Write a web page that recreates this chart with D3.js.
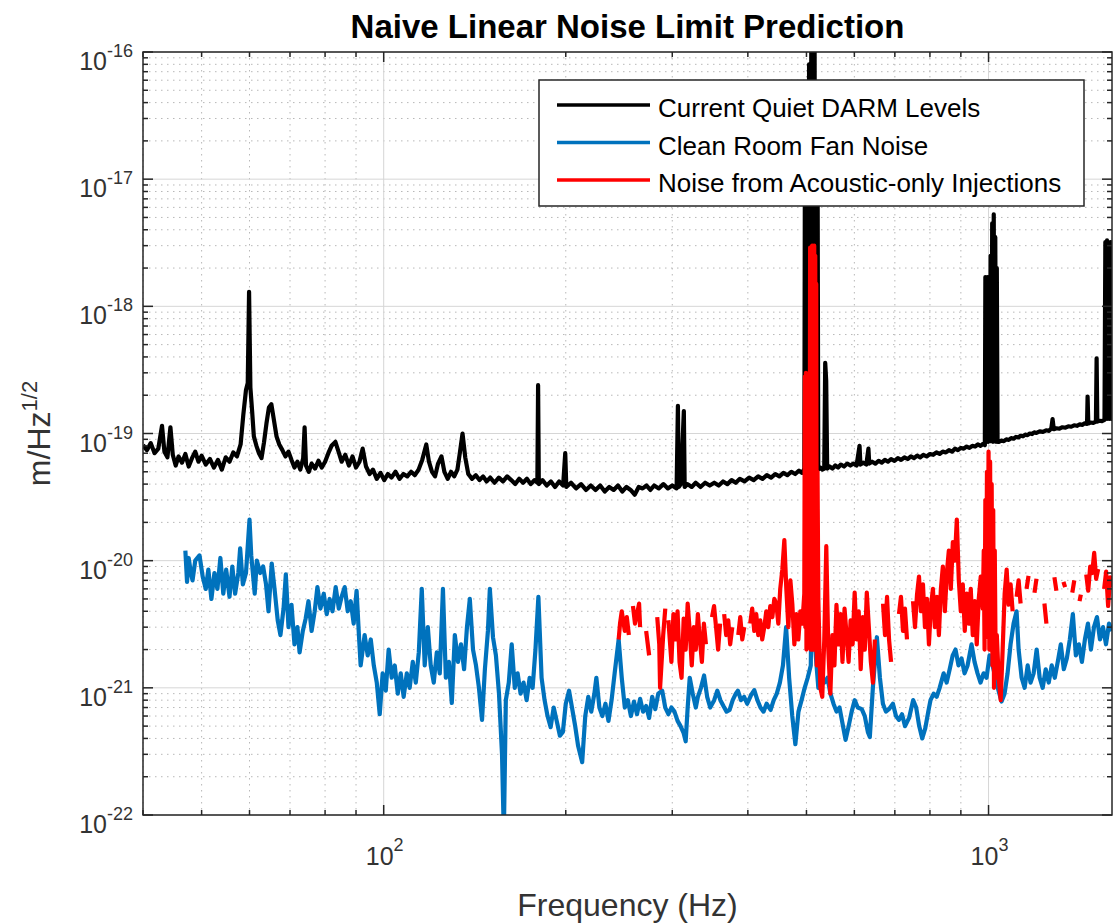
<!DOCTYPE html>
<meta charset="utf-8">
<style>
  body { margin: 0; background: #fff; }
  svg text { font-family: "Liberation Sans", Arial, Helvetica, sans-serif; fill: #262626; }
</style>
<body>
<svg width="1114" height="924"></svg>
<script src="https://d3js.org/d3.v7.min.js"></script>
<script>

// ---- data: [frequency Hz, amplitude m/Hz^1/2] ----
var darm = [
  [40,8.1e-20],[40.6,7.4e-20],[41.2,8.4e-20],[41.8,7.0e-20],[42.4,7.6e-20],[43.0,1.15e-19],[43.4,7.2e-20],
  [43.9,6.5e-20],[44.4,1.12e-19],[44.8,6.8e-20],[45.3,5.6e-20],[45.8,6.6e-20],[46.4,5.9e-20],[47.0,6.9e-20],
  [47.6,5.5e-20],[48.2,6.4e-20],[48.8,7.2e-20],[49.4,6.0e-20],[50.0,6.7e-20],[50.8,5.7e-20],[51.6,6.3e-20],
  [52.4,5.4e-20],[53.2,6.2e-20],[54.0,5.2e-20],[54.8,6.5e-20],[55.6,6.0e-20],[56.4,7.1e-20],[57.2,6.6e-20],
  [58.0,8.2e-20],[58.6,1.4e-19],[59.2,2.2e-19],[59.6,2.5e-19],[59.9,1.3e-18],[60.2,2.3e-19],[60.6,1.5e-19],
  [61.0,9.5e-20],[61.6,8.0e-20],[62.2,7.0e-20],[62.8,6.4e-20],[63.4,8.5e-20],[64.0,1.2e-19],[64.6,1.6e-19],
  [65.2,1.7e-19],[65.8,1.3e-19],[66.5,9.5e-20],[67.2,8.2e-20],[68.0,7.4e-20],[68.8,6.6e-20],[69.6,7.2e-20],
  [70.4,6.2e-20],[71.2,5.4e-20],[72.0,6.0e-20],[72.8,5.2e-20],[73.6,6.4e-20],[74.0,1.12e-19],[74.4,5.6e-20],
  [75.2,5.0e-20],[76.0,5.8e-20],[77.0,5.3e-20],[78.0,6.1e-20],[79.0,5.4e-20],[80.0,6.0e-20],[81.0,7.0e-20],
  [82.0,8.0e-20],[83.2,8.6e-20],[84.2,7.2e-20],[85.2,6.0e-20],[86.4,6.8e-20],[87.6,5.6e-20],[88.8,6.6e-20],
  [90.0,5.4e-20],[91.2,6.0e-20],[92.3,7.6e-20],[93.5,5.5e-20],[94.8,4.8e-20],[96.0,5.2e-20],[97.4,4.4e-20],
  [98.8,4.9e-20],[100.2,4.3e-20],[101.6,4.8e-20],[103.0,4.5e-20],[104.6,5.0e-20],[106.2,4.4e-20],[107.8,4.8e-20],
  [109.4,4.6e-20],[111.0,5.0e-20],[112.6,4.7e-20],[114.2,5.2e-20],[115.8,6.2e-20],[117.6,8.2e-20],[118.8,6.0e-20],
  [120.2,5.0e-20],[121.6,4.6e-20],[123.0,5.8e-20],[124.6,6.6e-20],[126.0,5.0e-20],[127.6,4.4e-20],[129.2,5.0e-20],
  [130.8,4.6e-20],[132.4,5.2e-20],[133.6,7.0e-20],[135.0,1.0e-19],[136.4,6.5e-20],[138.0,4.8e-20],[140,4.4e-20],
  [142,4.7e-20],[144,4.3e-20],[146,4.6e-20],[148,4.2e-20],[150,4.5e-20],[152.5,4.1e-20],[155,4.5e-20],
  [157.5,4.2e-20],[160,4.6e-20],[162.5,4.3e-20],[165,4.0e-20],[167.5,4.4e-20],[170,4.1e-20],[172.5,4.4e-20],
  [175,4.0e-20],[177.5,4.3e-20],[179.5,4.1e-20],[180,2.4e-19],[180.5,4.0e-20],[183,4.3e-20],[186,3.9e-20],
  [189,4.2e-20],[192,3.8e-20],[195,4.2e-20],[198,3.9e-20],[199.6,7.0e-20],[200.4,3.8e-20],[204,4.1e-20],
  [208,3.7e-20],[212,4.0e-20],[216,3.6e-20],[220,3.9e-20],[224,3.6e-20],[228,3.9e-20],[232,3.5e-20],
  [236,3.8e-20],[240,3.6e-20],[244,3.9e-20],[248,3.5e-20],[252,3.8e-20],[256,3.6e-20],[260,3.3e-20],
  [264,3.8e-20],[268,3.7e-20],[272,3.9e-20],[276,3.6e-20],[280,3.9e-20],[285,3.7e-20],[290,4.0e-20],
  [295,3.7e-20],[300,3.9e-20],[305,3.7e-20],[306.5,1.65e-19],[307.5,3.8e-20],[310,4.0e-20],[313.5,1.5e-19],
  [314.5,3.8e-20],[318,4.0e-20],[323,3.8e-20],[328,4.1e-20],[334,3.8e-20],[340,4.1e-20],[346,3.9e-20],
  [352,4.1e-20],[358,3.9e-20],[364,4.2e-20],[370,4.0e-20],[376,4.3e-20],[382,4.1e-20],[388,4.4e-20],
  [395,4.2e-20],[402,4.5e-20],[409,4.3e-20],[416,4.6e-20],[423,4.4e-20],[430,4.7e-20],[437,4.5e-20],
  [444,4.8e-20],[451,4.6e-20],[458,4.9e-20],[465,4.7e-20],[472,5.0e-20],[479,4.8e-20],[486,5.1e-20],
  [492,4.9e-20],[496,5.3e-20],[497,1.2e-17],[498,5.0e-20],[499,1.8e-17],[500,5.2e-20],[501,2.5e-17],
  [502,5.0e-20],[503,6e-18],[504,5.3e-20],[505,8e-17],[506,5.0e-20],[507,2e-17],[508,5.2e-20],[509.5,5e-16],
  [511,5.0e-20],[512.5,8e-16],[514,5.2e-20],[515.5,5e-16],[517,5.0e-20],[518.5,4e-17],[520,5.2e-20],
  [521.5,2e-17],[523,5.2e-20],[527,5.4e-20],[531,5.2e-20],
  [535,5.3e-20],[537,3.6e-19],[539,2.6e-19],[541,5.3e-20],[546,5.5e-20],[552,5.3e-20],[558,5.6e-20],
  [564,5.4e-20],[570,5.7e-20],[577,5.5e-20],[584,5.8e-20],[591,5.6e-20],[598,5.8e-20],[605,5.6e-20],
  [612,8.0e-20],[614,5.7e-20],[621,5.9e-20],[628,5.7e-20],[633,7.6e-20],[635,5.8e-20],[642,6.0e-20],
  [650,5.8e-20],[658,6.1e-20],[666,5.9e-20],[674,6.2e-20],[682,6.0e-20],[690,6.3e-20],[699,6.1e-20],
  [708,6.4e-20],[717,6.2e-20],[726,6.5e-20],[735,6.3e-20],[744,6.6e-20],[753,6.4e-20],[762,6.7e-20],
  [771,6.5e-20],[780,6.8e-20],[790,6.6e-20],[800,6.9e-20],[810,6.8e-20],[820,7.1e-20],[830,6.9e-20],
  [840,7.2e-20],[850,7.1e-20],[860,7.4e-20],[870,7.2e-20],[880,7.6e-20],[890,7.4e-20],[900,7.7e-20],
  [910,7.6e-20],[920,7.9e-20],[930,7.7e-20],[940,8.0e-20],[950,7.9e-20],[960,8.2e-20],[970,8.0e-20],
  [980,8.3e-20],[986,8.1e-20],[988,1.7e-18],[990,8.5e-20],[992,1.6e-18],[994,8.6e-20],[996,1.7e-18],
  [999,8.6e-20],[1002,1.5e-18],[1005,8.7e-20],[1008,2.5e-18],[1011,8.7e-20],[1014,4.5e-18],[1017,8.6e-20],
  [1020,5.3e-18],[1023,8.7e-20],[1026,3.5e-18],[1029,8.6e-20],[1032,2e-18],[1035,8.6e-20],[1040,8.6e-20],
  [1050,8.8e-20],[1060,8.7e-20],[1070,9.0e-20],[1080,8.9e-20],[1090,9.2e-20],[1100,9.1e-20],[1110,9.4e-20],
  [1120,9.3e-20],[1130,9.6e-20],[1140,9.5e-20],[1150,9.8e-20],[1160,9.7e-20],[1170,1.0e-19],[1180,9.9e-20],
  [1190,1.02e-19],[1200,1.01e-19],[1215,1.04e-19],[1230,1.03e-19],[1245,1.06e-19],[1260,1.05e-19],
  [1270,1.1e-19],[1276,1.3e-19],[1282,1.08e-19],[1295,1.1e-19],[1310,1.09e-19],[1325,1.12e-19],
  [1340,1.11e-19],[1355,1.14e-19],[1370,1.13e-19],[1385,1.16e-19],[1400,1.15e-19],[1415,1.18e-19],
  [1430,1.17e-19],[1440,1.2e-19],[1455,1.19e-19],[1458,1.95e-19],[1462,1.2e-19],[1475,1.22e-19],
  [1490,1.21e-19],[1505,1.24e-19],[1509,3.9e-19],[1513,1.24e-19],[1525,1.26e-19],[1540,1.25e-19],
  [1555,1.28e-19],[1560,3.2e-18],[1565,1.3e-19],[1570,3.3e-18],[1575,1.3e-19],[1580,3.1e-18],[1585,1.3e-19],
  [1590,3.2e-18],[1595,1.3e-19],[1600,3.2e-18],[1603,3.1e-18],[1605,1.3e-19]
];

var fan = [
  [47.0,1.2e-20],[47.3,6.8e-21],[47.6,1.05e-20],[48.0,8.0e-21],[48.3,7.0e-21],[48.8,1.0e-20],[49.6,1.1e-20],
  [50.2,7.5e-21],[50.8,6.0e-21],[51.3,8.5e-21],[51.9,5.0e-21],[52.5,8.0e-21],[53.1,6.0e-21],[53.7,1.05e-20],
  [54.3,5.5e-21],[54.9,8.5e-21],[55.6,5.2e-21],[56.2,9.0e-21],[56.8,5.5e-21],[57.5,8.0e-21],[57.9,1.25e-20],
  [58.5,6.5e-21],[59.2,8.0e-21],[60.0,2.1e-20],[60.4,1.1e-20],[61.2,5.5e-21],[61.7,1.0e-20],[62.5,8.0e-21],
  [63.2,9.0e-21],[63.9,6.5e-21],[64.5,4.0e-21],[65.3,9.5e-21],[66.0,6.0e-21],[66.8,3.4e-21],[67.5,2.6e-21],
  [68.3,4.2e-21],[68.9,7.8e-21],[69.6,3.0e-21],[70.4,4.5e-21],[71.2,2.2e-21],[72.0,3.0e-21],[72.6,1.9e-21],
  [73.5,2.8e-21],[74.3,3.5e-21],[75.1,4.8e-21],[76.0,2.8e-21],[76.9,4.0e-21],[77.7,6.2e-21],[78.6,4.2e-21],
  [79.6,5.5e-21],[80.5,3.8e-21],[81.4,5.0e-21],[82.3,4.0e-21],[83.3,6.2e-21],[84.3,4.2e-21],[85.2,5.2e-21],
  [86.2,6.2e-21],[87.2,4.0e-21],[88.2,4.8e-21],[89.2,3.2e-21],[90.2,5.8e-21],[91.0,2.6e-21],[91.6,1.5e-21],
  [93.0,2.6e-21],[94.1,1.8e-21],[95.2,2.4e-21],[96.3,1.5e-21],[97.4,1.1e-21],[98.5,6.2e-22],[99.6,1.3e-21],
  [100.8,9.5e-22],[101.9,2.0e-21],[103.1,1.2e-21],[104.3,1.5e-21],[105.5,9.0e-22],[106.7,1.3e-21],
  [107.9,8.5e-22],[109.2,1.3e-21],[110.4,1.0e-21],[111.7,1.6e-21],[113.0,1.1e-21],[114.3,1.9e-21],
  [115.6,6.0e-21],[116.9,1.5e-21],[118.3,3.0e-21],[119.6,1.5e-21],[121.0,1.1e-21],[122.4,1.9e-21],
  [123.8,1.3e-21],[125.3,6.0e-21],[126.7,1.2e-21],[128.2,1.6e-21],[129.6,7.6e-22],[131.1,2.6e-21],
  [132.7,1.6e-21],[134.2,2.2e-21],[135.8,1.4e-21],[137.3,3.0e-21],[138.8,5.0e-21],[140.5,2.0e-21],
  [142.1,1.5e-21],[143.7,1.0e-21],[145.4,5.6e-22],[147.0,1.4e-21],[148.7,2.8e-21],[149.8,6.0e-21],
  [151.6,2.5e-21],[153.3,1.8e-21],[155.1,9.0e-22],[156.9,3.0e-22],[158.0,7e-23],[159.2,8.0e-22],
  [161.0,1.1e-21],[162.8,2.2e-21],[164.7,1.0e-21],[166.5,1.3e-21],[168.4,9.0e-22],[170.3,1.1e-21],
  [172.3,8.0e-22],[174.3,1.2e-21],[176.3,1.0e-21],[178.2,2.0e-21],[180.2,5.2e-21],[182.4,1.2e-21],
  [184.5,8.0e-22],[186.6,6.0e-22],[188.8,4.9e-22],[191.0,7.0e-22],[193.2,5.5e-22],[195.6,4.2e-22],
  [197.8,4.5e-22],[200.0,7.5e-22],[202.5,9.5e-22],[204.8,7.0e-22],[207.3,5.0e-22],[209.6,3.5e-22],
  [212.9,2.6e-22],[215.4,6.0e-22],[217.9,8.5e-22],[220.4,6.5e-22],[223.0,9.0e-22],[224.7,1.2e-21],
  [227.3,7.0e-22],[229.9,6.0e-22],[232.6,7.5e-22],[235.3,5.5e-22],[238.1,8.0e-22],[240.9,1.3e-21],
  [244.6,2.4e-21],[247.5,1.2e-21],[250.4,7.0e-22],[253.3,8.0e-22],[256.3,6.0e-22],[259.3,7.8e-22],
  [262.3,6.2e-22],[265.4,8.2e-22],[268.4,6.5e-22],[271.6,7.2e-22],[274.7,5.8e-22],[277.9,8.5e-22],
  [281.2,6.8e-22],[284.4,9.0e-22],[288.7,9.5e-22],[292.1,7.0e-22],[295.6,6.2e-22],[299.0,7.0e-22],
  [302.5,6.5e-22],[306.1,5.5e-22],[309.6,5.0e-22],[313.3,4.4e-22],[315.7,3.8e-22],[318.1,7.0e-22],
  [320.6,1.2e-21],[324.3,9.0e-22],[328.1,7.0e-22],[330.7,8.5e-22],[334.6,1.0e-21],[338.6,1.25e-21],
  [342.6,8.5e-22],[346.6,7.0e-22],[351.9,8.0e-22],[356.1,9.5e-22],[360.3,8.0e-22],[364.5,7.2e-22],
  [368.9,6.5e-22],[373.2,6.7e-22],[377.6,8.0e-22],[382.1,9.0e-22],[385.1,9.5e-22],[389.7,8.0e-22],
  [394.3,8.5e-22],[399.0,7.5e-22],[405.1,8.8e-22],[409.9,9.6e-22],[414.8,8.0e-22],[419.7,7.0e-22],
  [424.6,6.5e-22],[429.6,7.5e-22],[436.2,6.7e-22],[441.4,8.0e-22],[446.6,9.0e-22],[451.9,1.1e-21],
  [457.2,1.5e-21],[462.7,3.0e-21],[468.1,1.2e-21],[473.7,6.0e-22],[479.3,3.6e-22],[485.0,6.5e-22],
  [490.8,8.0e-22],[496.6,1.0e-21],[502.4,1.2e-21],[508.3,1.5e-21],[511.2,1.8e-20],[517.1,2.0e-21],
  [523.1,1.0e-21],[529.2,1.3e-21],[535.4,1.1e-21],[541.6,1.2e-21],[547.8,9.0e-22],[554.2,7.5e-22],
  [560.6,6.5e-22],[567.1,7.0e-22],[573.7,5.2e-22],[580.3,3.9e-22],[587.1,5.0e-22],[593.9,6.5e-22],
  [600.8,8.0e-22],[607.8,7.0e-22],[617.2,6.8e-22],[624.3,6.0e-22],[631.6,4.5e-22],[636.4,4.1e-22],
  [643.8,1.0e-21],[653.7,2.5e-21],[661.3,1.2e-21],[668.9,7.5e-22],[676.6,6.5e-22],[684.4,6.8e-22],
  [694.9,7.5e-22],[703.0,6.0e-22],[711.1,5.6e-22],[719.4,6.2e-22],[727.7,5.0e-22],[739.0,5.8e-22],
  [750.5,8.0e-22],[759.2,7.0e-22],[768.0,5.0e-22],[776.9,4.0e-22],[785.9,4.8e-22],[795.0,6.5e-22],
  [801.8,8.0e-22],[811.5,9.0e-22],[820.8,8.5e-22],[830.2,1.0e-21],[842.9,1.3e-21],[852.6,1.1e-21],
  [862.5,1.4e-21],[872.4,1.8e-21],[881.9,2.0e-21],[892.0,1.5e-21],[902.3,1.7e-21],[912.8,1.3e-21],
  [923.3,1.5e-21],[937.3,2.2e-21],[948.1,1.6e-21],[959.0,1.3e-21],[970.0,1.1e-21],[981.2,1.3e-21],
  [992.5,1.2e-21],[1003.8,1.8e-21],[1015.4,1.5e-21],[1027.0,1.2e-21],[1038.8,9.5e-22],[1050.8,7.8e-22],
  [1062.9,9.0e-22],[1075.1,1.3e-21],[1087.5,2.2e-21],[1100.0,3.2e-21],[1112.7,4.0e-21],[1121.3,2.0e-21],
  [1134.3,1.2e-21],[1147.4,1.0e-21],[1160.6,1.5e-21],[1173.5,1.1e-21],[1187.3,1.3e-21],[1201.0,2.0e-21],
  [1214.9,1.2e-21],[1228.9,1.0e-21],[1243.1,1.4e-21],[1257.5,1.1e-21],[1272.0,1.5e-21],[1286.7,1.2e-21],
  [1301.5,1.6e-21],[1316.6,2.2e-21],[1331.8,1.4e-21],[1347.2,1.7e-21],[1362.7,2.4e-21],[1378.5,3.8e-21],
  [1394.4,1.8e-21],[1410.5,2.2e-21],[1426.8,1.6e-21],[1443.2,2.4e-21],[1459.9,3.2e-21],[1476.7,2.0e-21],
  [1493.8,3.0e-21],[1511.0,3.6e-21],[1528.4,2.4e-21],[1546.1,3.0e-21],[1563.9,2.2e-21],[1582.0,3.2e-21],
  [1600.2,2.8e-21]
];

// null amplitude = gap in the acoustic injection trace
var acoustic = [
  [244.6,2.4e-21],[245.9,3.2e-21],[247.5,4.0e-21],[250.4,2.8e-21],[252.3,3.6e-21],[254.3,2.6e-21],[256,null],
  [258.3,4.4e-21],[260.3,3.2e-21],[262.3,3.8e-21],[264.4,4.6e-21],[265.4,3.0e-21],[268,null],
  [271.6,2.8e-21],[274.7,1.8e-21],[278,null],
  [283.3,3.6e-21],[285.5,2.2e-21],[286.4,1.0e-21],[289.8,2.6e-21],[292.1,4.2e-21],[294,null],
  [295.6,3.4e-21],[299.0,1.6e-21],[301.3,3.8e-21],[303.7,2.4e-21],[306.1,4.0e-21],[308.4,1.6e-21],
  [310.8,1.2e-21],[313.3,3.5e-21],[315.7,2.0e-21],[318.1,4.6e-21],[320.6,2.8e-21],[323.1,1.5e-21],
  [325.6,3.0e-21],[328.1,2.0e-21],[330.7,3.8e-21],[333.2,2.4e-21],[335.8,1.6e-21],[338.4,3.2e-21],
  [341.0,2.2e-21],[345,null],
  [349.0,3.6e-21],[351.7,4.4e-21],[354.4,3.0e-21],[357.2,2.0e-21],[359.9,3.2e-21],[362,null],
  [365.5,3.8e-21],[368.3,2.6e-21],[371.2,3.4e-21],[374.0,2.2e-21],[377.0,3.0e-21],[381,null],
  [385.7,2.6e-21],[388.6,3.6e-21],[391.6,2.4e-21],[394.6,3.0e-21],[398,null],
  [403.6,3.2e-21],[406.7,4.2e-21],[409.9,2.8e-21],[413.0,3.8e-21],[416.2,2.6e-21],[419.3,3.4e-21],
  [422.5,2.4e-21],[425.8,3.0e-21],[429.1,4.0e-21],[432.4,3.0e-21],[435.7,4.4e-21],[439.1,3.6e-21],
  [442.4,5.0e-21],[445.8,4.6e-21],[449.2,3.2e-21],[452.5,6.0e-21],[456.1,8.5e-21],[459.6,1.45e-20],
  [463.1,6.0e-21],[466.7,3.0e-21],[470.3,7.0e-21],[473.9,4.5e-21],[477.5,2.2e-21],[481.1,3.8e-21],
  [484.8,2.4e-21],[488.5,4.0e-21],[492.2,3.2e-21],[495.9,5.5e-21],
  [497,2.8e-19],[498,3e-21],[499,3e-19],[500,2e-21],[501,2.6e-19],[502,3e-21],[503,2.9e-19],[504,4e-21],
  [505,2.5e-19],[506,3e-21],[507,2.9e-18],[508,2e-21],[509,2.6e-18],[510,3e-21],[511,3.0e-18],[512,2e-21],
  [513,2.8e-18],[514,3e-21],[515,3.0e-18],[516,2e-21],[517,2.5e-18],[518,3e-21],[519,1.5e-18],[520,1.5e-21],
  [521.5,5.0e-20],[523.1,5.0e-21],
  [527.1,1.0e-21],[531.0,8.5e-22],[535.1,2.4e-21],[539.2,1.3e-20],[543.4,2.0e-21],[547.6,9.0e-22],
  [551.9,2.6e-21],[556.2,1.5e-21],[560.5,4.5e-21],[564.8,2.2e-21],[569.2,3.8e-21],[573.5,1.6e-21],
  [578.0,4.2e-21],[582.5,2.6e-21],[587.0,1.6e-21],[591.5,3.4e-21],[596.1,2.2e-21],[600.7,5.6e-21],
  [605.3,2.4e-21],[610.0,4.0e-21],[614.7,1.4e-21],[619.5,3.6e-21],[624.3,2.0e-21],[629.1,5.6e-21],
  [634.0,3.0e-21],[638.9,1.6e-21],[643.9,1.1e-21],[648.8,2.4e-21],[655,null],
  [669.2,4.6e-21],[674.3,2.6e-21],[679.5,5.2e-21],[684.7,2.4e-21],[690.0,1.6e-21],[700,null],
  [711.1,3.8e-21],[716.5,5.2e-21],[722.0,2.8e-21],[727.5,4.2e-21],[733.1,2.4e-21],[740,null],
  [750.1,4.8e-21],[755.8,3.0e-21],[761.6,5.4e-21],[767.4,7.5e-21],[773.2,4.0e-21],[779.1,6.5e-21],
  [785.0,3.0e-21],[791.0,5.0e-21],[797.0,2.2e-21],[803.1,4.4e-21],[809.2,6.0e-21],[815.3,3.0e-21],
  [821.5,5.2e-21],[827.8,2.6e-21],[834.1,6.0e-21],[840.4,9.0e-21],[846.8,4.0e-21],[853.2,8.0e-21],
  [859.7,1.2e-20],[866.3,6.0e-21],[872.9,1.4e-20],[879.5,1.0e-20],[886.2,2.1e-20],[893.0,7.0e-21],
  [899.8,4.0e-21],[906.6,6.5e-21],[913.5,2.8e-21],[920.5,5.5e-21],[927.5,3.2e-21],[934.6,6.0e-21],
  [941.7,2.6e-21],[948.9,4.8e-21],[956.1,2.2e-21],[963.4,5.0e-21],[970.8,7.5e-21],[978.2,4.2e-21],
  [982,1.2e-20],[985,2.0e-21],[988,3.0e-20],[991,2.5e-21],[994,5.0e-20],[997,3.0e-21],[1000,7.2e-20],
  [1003,2.0e-21],[1006,6.0e-20],[1009,2.5e-21],[1012,4.0e-20],[1015,1.5e-21],[1018,2.5e-20],[1021,1.0e-21],
  [1024,1.2e-20],[1028,1.2e-21],[1032,2.6e-21],[1039.3,1.2e-21],[1047.3,8.0e-22],[1055.2,2.0e-21],
  [1063.3,5.5e-21],[1071.4,8.5e-21],[1079.5,4.5e-21],[1087.7,6.5e-21],[1096.0,4.0e-21],[1104,null],
  [1112.8,5.2e-21],[1121.3,7.0e-21],[1129.8,4.6e-21],[1140,null],
  [1155.7,6.0e-21],[1164.5,7.6e-21],[1175,null],
  [1191.2,5.6e-21],[1200.2,7.2e-21],[1215,null],
  [1237.1,4.6e-21],[1246.5,3.2e-21],[1265,null],
  [1285.0,7.4e-21],[1294.8,5.8e-21],[1315,null],
  [1330.0,6.8e-21],[1338.5,6.2e-21],[1355,null],
  [1375.5,5.6e-21],[1386.0,7.0e-21],[1400,null],
  [1414.0,4.8e-21],[1421.0,5.4e-21],[1435,null],
  [1450.5,7.8e-21],[1461.5,5.8e-21],[1472.6,9.0e-21],[1483.8,8.0e-21],[1495.1,1.15e-20],[1506.4,7.2e-21],
  [1517.9,8.6e-21],[1535,null],
  [1552.9,6.0e-21],[1564.7,8.2e-21],[1576.6,4.4e-21],[1588.6,7.4e-21],[1600.6,6.2e-21]
];

var seriesNames = ["Current Quiet DARM Levels", "Clean Room Fan Noise", "Noise from Acoustic-only Injections"];
var seriesColors = ["#000000", "#0072bd", "#ff0000"];
var xTickExps = [2, 3];
var yTickExps = [-22, -21, -20, -19, -18, -17, -16];

// ---- layout ----
var svg = d3.select("svg"),
    plot = {left: 143, right: 1112, top: 52, bottom: 815};

var x = d3.scaleLog().domain([40, 1600]).range([plot.left, plot.right]);
var y = d3.scaleLog().domain([1e-22, 1e-16]).range([plot.bottom, plot.top]);

svg.append("defs").append("clipPath").attr("id", "clip")
  .append("rect")
    .attr("x", plot.left).attr("y", plot.top)
    .attr("width", plot.right - plot.left).attr("height", plot.bottom - plot.top);

// minor tick values (2..9 x 10^k) inside the domains
var xMinor = [], yMinor = [];
[1, 2, 3].forEach(function(e) {
  for (var m = 2; m <= 9; m++) {
    var v = m * Math.pow(10, e);
    if (v >= 40 && v <= 1600) xMinor.push(v);
  }
});
yTickExps.slice(0, -1).forEach(function(e) {
  for (var m = 2; m <= 9; m++) yMinor.push(m * Math.pow(10, e));
});
var xMajor = xTickExps.map(function(e) { return Math.pow(10, e); });
var yMajor = yTickExps.map(function(e) { return Math.pow(10, e); });

// ---- grid ----
var grid = svg.append("g");
grid.selectAll(".xminor").data(xMinor).enter().append("line")
  .attr("x1", d => x(d)).attr("x2", d => x(d))
  .attr("y1", plot.top).attr("y2", plot.bottom)
  .attr("stroke", "#b8b8b8").attr("stroke-width", 1).attr("stroke-dasharray", "1.5,4.5");
grid.selectAll(".yminor").data(yMinor).enter().append("line")
  .attr("y1", d => y(d)).attr("y2", d => y(d))
  .attr("x1", plot.left).attr("x2", plot.right)
  .attr("stroke", "#b8b8b8").attr("stroke-width", 1).attr("stroke-dasharray", "1.5,4.5");
grid.selectAll(".xmajor").data(xMajor).enter().append("line")
  .attr("x1", d => x(d)).attr("x2", d => x(d))
  .attr("y1", plot.top).attr("y2", plot.bottom)
  .attr("stroke", "#d6d6d6").attr("stroke-width", 1);
grid.selectAll(".ymajor").data(yMajor).enter().append("line")
  .attr("y1", d => y(d)).attr("y2", d => y(d))
  .attr("x1", plot.left).attr("x2", plot.right)
  .attr("stroke", "#d6d6d6").attr("stroke-width", 1);

// ---- traces ----
var line = d3.line()
  .defined(function(d) { return d[1] != null; })
  .x(function(d) { return x(d[0]); })
  .y(function(d) { return y(d[1]); });

var traces = svg.append("g").attr("clip-path", "url(#clip)");
[darm, fan, acoustic].forEach(function(s, i) {
  traces.append("path")
    .datum(s)
    .attr("fill", "none")
    .attr("stroke", seriesColors[i])
    .attr("stroke-width", 4.2)
    .attr("stroke-linejoin", "round")
    .attr("d", line);
});

// ---- axes box and inward ticks on all four sides ----
var ax = svg.append("g").attr("stroke", "#262626").attr("stroke-width", 1.5);
ax.append("rect")
  .attr("x", plot.left).attr("y", plot.top)
  .attr("width", plot.right - plot.left).attr("height", plot.bottom - plot.top)
  .attr("fill", "none");

function xTicks(vals, len) {
  vals.forEach(function(v) {
    ax.append("line").attr("x1", x(v)).attr("x2", x(v)).attr("y1", plot.bottom).attr("y2", plot.bottom - len);
    ax.append("line").attr("x1", x(v)).attr("x2", x(v)).attr("y1", plot.top).attr("y2", plot.top + len);
  });
}
function yTicks(vals, len) {
  vals.forEach(function(v) {
    ax.append("line").attr("y1", y(v)).attr("y2", y(v)).attr("x1", plot.left).attr("x2", plot.left + len);
    ax.append("line").attr("y1", y(v)).attr("y2", y(v)).attr("x1", plot.right).attr("x2", plot.right - len);
  });
}
xTicks(xMajor, 10); xTicks(xMinor, 5);
yTicks(yMajor, 10); yTicks(yMinor, 5);

// ---- tick labels 10^n ----
yTickExps.forEach(function(e) {
  var t = svg.append("text")
    .attr("x", plot.left - 10).attr("y", y(Math.pow(10, e)) + 18)
    .attr("text-anchor", "end").attr("font-size", 25).style("fill", "#333");
  t.append("tspan").text("10");
  t.append("tspan").attr("dy", -13).attr("font-size", 18).text(String(e));
});
xTickExps.forEach(function(e) {
  var t = svg.append("text")
    .attr("x", x(Math.pow(10, e)) + 1).attr("y", plot.bottom + 50)
    .attr("text-anchor", "middle").attr("font-size", 25).style("fill", "#333");
  t.append("tspan").text("10");
  t.append("tspan").attr("dy", -14).attr("font-size", 18).text(String(e));
});

// ---- titles ----
svg.append("text")
  .attr("x", (plot.left + plot.right) / 2).attr("y", 38)
  .attr("text-anchor", "middle").attr("font-size", 33).attr("font-weight", "bold")
  .style("fill", "#000")
  .text("Naive Linear Noise Limit Prediction");

svg.append("text")
  .attr("x", (plot.left + plot.right) / 2).attr("y", 916)
  .attr("text-anchor", "middle").attr("font-size", 32).style("fill", "#333")
  .text("Frequency (Hz)");

var yl = svg.append("text")
  .attr("transform", "translate(50," + ((plot.top + plot.bottom) / 2) + ") rotate(-90)")
  .attr("text-anchor", "middle").attr("font-size", 32).style("fill", "#333");
yl.append("tspan").text("m/Hz");
yl.append("tspan").attr("dy", -13).attr("font-size", 22).text("1/2");

// ---- legend ----
var lg = svg.append("g");
lg.append("rect")
  .attr("x", 539).attr("y", 80).attr("width", 545).attr("height", 126)
  .attr("fill", "#fff").attr("stroke", "#262626").attr("stroke-width", 1.5);
seriesNames.forEach(function(name, i) {
  var yy = 105 + i * 37.5;
  lg.append("line")
    .attr("x1", 557).attr("x2", 650).attr("y1", yy).attr("y2", yy)
    .attr("stroke", seriesColors[i]).attr("stroke-width", 3.5);
  lg.append("text")
    .attr("x", 658).attr("y", yy + 12)
    .attr("font-size", 26).style("fill", "#000")
    .text(name);
});

</script>
</body>
